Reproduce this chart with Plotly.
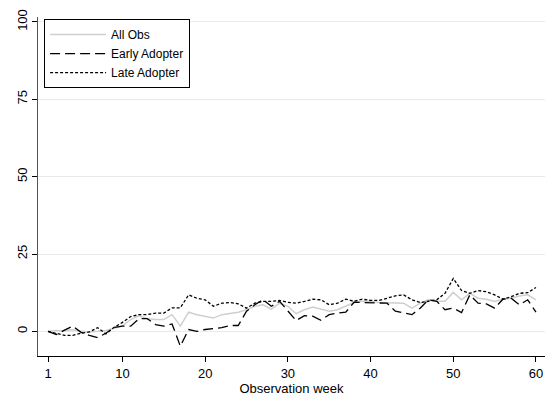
import plotly.graph_objects as go

weeks = list(range(1, 61))

all_obs = [0, 0.3, 0.2, 0.5, 0, -0.2, 0, 0.3, 1, 1.8,
           3.8, 5.0, 4.1, 3.8, 3.8, 5.4, 1.7, 6.2, 5.4, 4.9,
           4.3, 5.4, 5.7, 6.2, 7.0, 8.1, 8.6, 7.2, 9.1, 8.1,
           5.7, 7.0, 7.9, 7.2, 6.5, 7.0, 8.1, 9.3, 9.7, 9.7,
           9.3, 9.3, 9.1, 9.1, 7.5, 9.1, 10.2, 9.7, 9.7, 12.6,
           10.2, 12.3, 10.7, 10.4, 9.7, 10.4, 10.7, 11.4, 11.8, 10.2]

early = [0, -1.0, 0.4, 1.7, -0.3, -1.3, -2.0, -0.6, 1.3, 1.7,
         1.7, 4.1, 4.1, 2.2, 1.7, 2.4, -4.8, 0.6, 0.0, 0.6,
         0.9, 1.2, 1.9, 1.9, 6.5, 8.6, 10.2, 8.1, 9.7, 6.5,
         3.5, 5.1, 4.9, 3.6, 5.4, 5.9, 6.2, 9.4, 9.3, 9.3,
         9.3, 9.1, 6.5, 5.9, 5.4, 7.5, 10.2, 9.7, 7.0, 7.5,
         6.1, 11.8, 9.1, 8.9, 7.5, 10.4, 10.7, 8.6, 10.2, 6.2]

late = [0, -0.6, -1.3, -1.3, -0.6, -0.2, 1.2, -0.8, 1.3, 2.9,
        4.8, 5.4, 5.4, 5.9, 5.9, 7.6, 7.6, 11.8, 10.7, 10.2,
        8.1, 9.1, 9.3, 8.9, 7.5, 9.1, 9.7, 9.7, 10.0, 9.4,
        9.1, 9.7, 10.4, 10.2, 8.6, 9.1, 10.4, 9.7, 10.4, 10.0,
        10.0, 10.7, 11.5, 11.8, 10.2, 9.3, 9.7, 10.2, 12.3, 17.1,
        13.2, 12.3, 13.2, 12.8, 11.8, 10.4, 11.2, 12.3, 12.5, 14.2]

x_ticks = [1, 10, 20, 30, 40, 50, 60]
y_ticks = [0, 25, 50, 75, 100]

fig = go.Figure()
fig.add_trace(go.Scatter(x=weeks, y=all_obs, mode="lines", name="All Obs",
                         line=dict(color="#cfcfcf", width=1.5)))
fig.add_trace(go.Scatter(x=weeks, y=early, mode="lines", name="Early Adopter",
                         line=dict(color="#000000", width=1.3, dash="10px,5px")))
fig.add_trace(go.Scatter(x=weeks, y=late, mode="lines", name="Late Adopter",
                         line=dict(color="#000000", width=1.3, dash="3px,2px")))

font_family = "Liberation Sans, Arial, sans-serif"

fig.update_layout(
    width=554, height=401,
    margin=dict(l=38, r=9, t=13, b=44),
    paper_bgcolor="white", plot_bgcolor="white",
    font=dict(family=font_family, size=13, color="#000000"),
    showlegend=True,
    legend=dict(x=0.012, y=0.994, xanchor="left", yanchor="top",
                bgcolor="white", bordercolor="#000000", borderwidth=1,
                font=dict(size=12, family=font_family), itemwidth=56,
                tracegroupgap=0),
    xaxis=dict(range=[-0.21, 61.09], tickvals=x_ticks, ticks="outside",
               ticklen=5, tickcolor="#000000", showgrid=False, zeroline=False,
               showline=True, linecolor="#000000", linewidth=1,
               title=dict(text="Observation week", font=dict(size=13), standoff=2),
               tickfont=dict(size=13)),
    yaxis=dict(range=[-7.96, 101.6], tickvals=y_ticks, ticks="outside",
               ticklen=5, tickcolor="#000000", showgrid=True, gridcolor="#eaeaea",
               gridwidth=1, zeroline=False, showline=True, linecolor="#555555",
               linewidth=1, tickangle=-90, tickfont=dict(size=13)),
)

fig.write_html("out.html")
